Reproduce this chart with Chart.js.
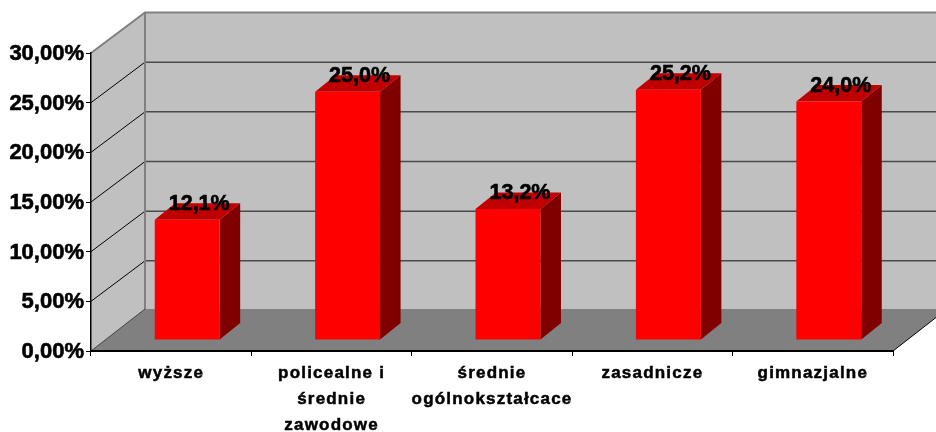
<!DOCTYPE html>
<html><head><meta charset="utf-8">
<style>html,body{margin:0;padding:0;background:#fff}canvas{display:block}</style>
<script src="https://cdn.jsdelivr.net/npm/chart.js@4"></script>
</head><body><canvas id="c" width="936" height="432"></canvas>
<script>
const categories = ['wyższe', ['policealne i','średnie','zawodowe'], ['średnie','ogólnokształcace'], 'zasadnicze', 'gimnazjalne'];
const values = [12.1, 25.0, 13.2, 25.2, 24.0];
const yTicks = [0, 5, 10, 15, 20, 25, 30];
const FONT = '"Liberation Sans", Arial, sans-serif';
const wall = {dx:54, dy:-40.5, floorDy:-42}, barShift = {dx:16, dy:-11}, barDepth = {dx:20.5, dy:-16.5};

const walls = {
  id:'walls',
  beforeDatasetsDraw(chart){
    const {ctx, scales:{x,y}} = chart;
    const L=x.left, R=x.right, B=y.getPixelForValue(0), T=y.getPixelForValue(30);
    const poly=(pts,fill)=>{ctx.beginPath();pts.forEach((p,i)=>i?ctx.lineTo(p[0],p[1]):ctx.moveTo(p[0],p[1]));ctx.closePath();ctx.fillStyle=fill;ctx.fill();};
    const line=(pts,col,w)=>{ctx.beginPath();pts.forEach((p,i)=>i?ctx.lineTo(p[0],p[1]):ctx.moveTo(p[0],p[1]));ctx.strokeStyle=col;ctx.lineWidth=w;ctx.stroke();};
    const F=B+wall.floorDy;
    ctx.save();
    poly([[L+wall.dx,T+wall.dy],[R+wall.dx,T+wall.dy],[R+wall.dx,F],[L+wall.dx,F]],'#c0c0c0');
    poly([[L,T],[L+wall.dx,T+wall.dy],[L+wall.dx,F],[L,B]],'#c0c0c0');
    poly([[L,B],[L+wall.dx,F],[R+wall.dx,F],[R,B]],'#808080');
    yTicks.forEach(v=>{
      if(v===0||v===30) return;
      const p=y.getPixelForValue(v);
      line([[L,p],[L+wall.dx,p+wall.dy]],'#000',1);
      line([[L+wall.dx,p+wall.dy],[R+wall.dx,p+wall.dy]],'#4a4a4a',1.5);
    });
    line([[L,T],[L+wall.dx,T+wall.dy],[R+wall.dx,T+wall.dy]],'#808080',2);
    line([[L+wall.dx,T+wall.dy],[L+wall.dx,F]],'#808080',2);
    line([[L,B],[L+wall.dx,F]],'#404040',1);
    line([[R,B],[R+wall.dx,F]],'#000',1);
    ctx.restore();
  },
  beforeDatasetDraw(chart){
    const ctx=chart.ctx;
    ctx.save();
    ctx.translate(barShift.dx,barShift.dy);
    chart.getDatasetMeta(0).data.forEach(b=>{
      const l=b.x-b.width/2, r=b.x+b.width/2, t=b.y, bo=b.base, d=barDepth;
      ctx.fillStyle='#800000';
      ctx.beginPath();ctx.moveTo(r,t);ctx.lineTo(r+d.dx,t+d.dy);ctx.lineTo(r+d.dx,bo+d.dy);ctx.lineTo(r,bo);ctx.closePath();ctx.fill();
      ctx.fillStyle='#c00000';
      ctx.beginPath();ctx.moveTo(l,t);ctx.lineTo(l+d.dx,t+d.dy);ctx.lineTo(r+d.dx,t+d.dy);ctx.lineTo(r,t);ctx.closePath();ctx.fill();
    });
  },
  afterDatasetDraw(chart){ chart.ctx.restore(); },
  afterDatasetsDraw(chart){
    const ctx=chart.ctx;
    ctx.save();
    ctx.font='bold 21.5px '+FONT;ctx.fillStyle='#000';ctx.strokeStyle='#000';ctx.lineWidth=0.6;ctx.textAlign='center';ctx.textBaseline='middle';
    chart.getDatasetMeta(0).data.forEach((b,i)=>{
      const s=values[i].toFixed(1).replace('.',',')+'%', px=b.x+barShift.dx+12, py=b.y+barShift.dy-15.5;
      ctx.fillText(s,px,py);ctx.strokeText(s,px,py);
    });
    ctx.restore();
    ctx.letterSpacing='1.2px';
  },
  afterDraw(chart){ chart.ctx.letterSpacing='0px'; }
};

new Chart(document.getElementById('c'),{
  type:'bar',
  data:{labels:categories,datasets:[{data:values,backgroundColor:'#ff0000',borderWidth:0,barPercentage:0.405,categoryPercentage:1}]},
  plugins:[walls],
  options:{
    responsive:false,animation:false,
    layout:{padding:{top:53,right:43,left:0,bottom:0}},
    plugins:{legend:{display:false},tooltip:{enabled:false}},
    scales:{
      x:{
        afterFit(s){s.height=81;},
        grid:{drawOnChartArea:false,drawTicks:true,tickLength:5,tickColor:'#000',tickWidth:1,z:1},
        border:{color:'#000',width:2,z:1},
        ticks:{z:2,autoSkip:false,maxRotation:0,minRotation:0,padding:4,color:'#000',textStrokeColor:'#000',textStrokeWidth:0.5,font:{family:FONT,size:17,weight:'bold',lineHeight:26/17}}
      },
      y:{
        min:0,max:30,
        afterFit(s){s.width=91;},
        afterBuildTicks(s){s.ticks=yTicks.map(v=>({value:v}));},
        grid:{drawOnChartArea:false,drawTicks:true,tickLength:5,tickColor:'#000',tickWidth:1,z:1},
        border:{color:'#000',width:1.5,z:1},
        ticks:{padding:2,labelOffset:1,color:'#000',textStrokeColor:'#000',textStrokeWidth:0.6,font:{family:FONT,size:22,weight:'bold'},callback:v=>v.toFixed(2).replace('.',',')+'%'}
      }
    }
  }
});
</script></body></html>
